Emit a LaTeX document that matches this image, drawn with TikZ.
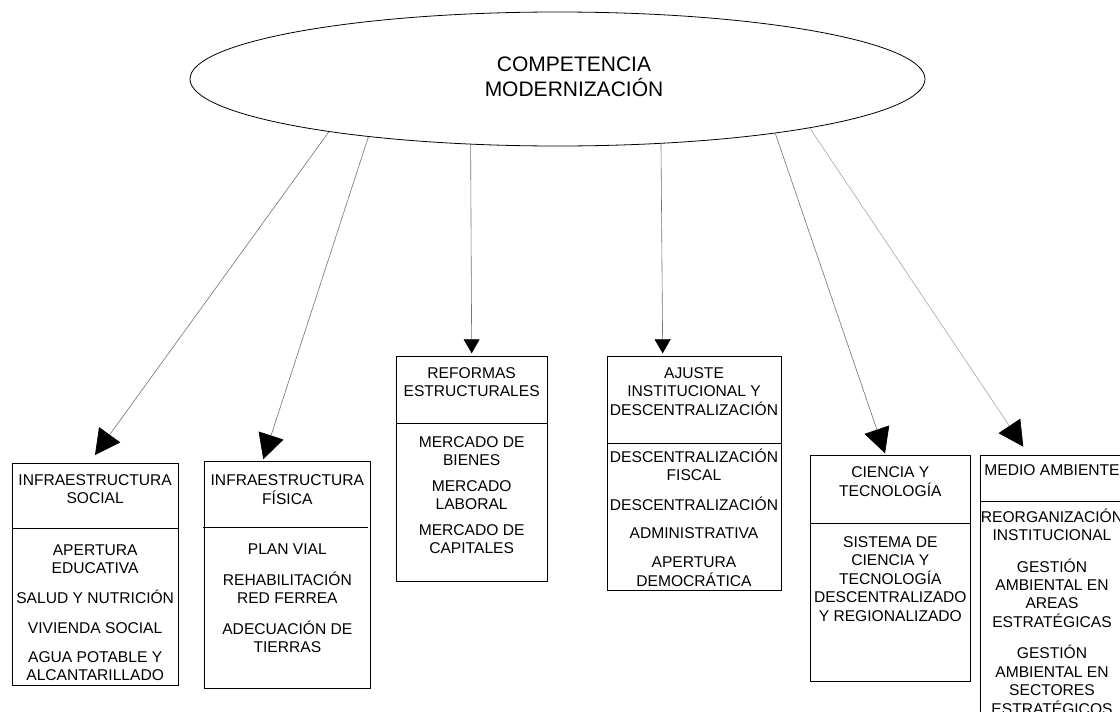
\documentclass[tikz,border=0pt]{standalone}
\usepackage{fontspec}
\setmainfont{Liberation Sans}
\usetikzlibrary{arrows.meta,shapes.geometric}
\newcommand{\boxlines}[1]{\begin{tabular}[t]{@{}c@{}}#1\end{tabular}}
\begin{document}
\begin{tikzpicture}[x=1pt,y=-1pt,
  box/.style={draw=black, line width=0.8pt, inner sep=0pt, outer sep=0pt},
  boxtxt/.style={font=\fontsize{15.6}{18.3}\selectfont, inner sep=0pt, anchor=base},
  divider/.style={draw=black, line width=0.8pt},
  conn/.style={draw=black!55, line width=0.6pt},
  bigtip/.style={-{Triangle[width=26pt,length=25pt,color=black]}},
  smalltip/.style={-{Triangle[width=16pt,length=14pt,color=black]}}]
\useasboundingbox (0,0) rectangle (1120,712);
\fill[white] (0,0) rectangle (1120,712);
\clip (0,0) rectangle (1120,712);

% central ellipse
\node[draw=black, line width=0.8pt, ellipse, minimum width=735pt, minimum height=134pt, inner sep=0pt] (ell) at (557.5,79) {};
\node[font=\fontsize{21}{24.6}\selectfont, inner sep=0pt, anchor=base] (title) at (574,71.2) {\boxlines{COMPETENCIA\\MODERNIZACIÓN}};

% boxes
\node[box, minimum width=166.3pt, minimum height=221.7pt] (b1) at (95.15,574.15) {};
\node[box, minimum width=166.7pt, minimum height=226.6pt] (b2) at (287.35,575) {};
\node[box, minimum width=151.3pt, minimum height=225pt] (b3) at (471.65,469.2) {};
\node[box, minimum width=174pt, minimum height=233.3pt] (b4) at (694,473.35) {};
\node[box, minimum width=159.3pt, minimum height=226pt] (b5) at (890.35,568) {};
\node[box, minimum width=144pt, minimum height=275pt] (b6) at (1052,592.5) {};

% dividers
\draw[divider] (b1.west |- 0,528.3) -- (b1.east |- 0,528.3);
\draw[divider] ([xshift=-1.5pt]b2.west |- 0,527.3) -- ([xshift=-3.2pt]b2.east |- 0,527.3);
\draw[divider] (b3.west |- 0,423.3) -- (b3.east |- 0,423.3);
\draw[divider] (b4.west |- 0,443.3) -- (b4.east |- 0,443.3);
\draw[divider] (b5.west |- 0,523.3) -- (b5.east |- 0,523.3);
\draw[divider] (b6.west |- 0,501.7) -- (b6.east |- 0,501.7);

% texts
\node[boxtxt] (h1) at (95.15,485.6) {\boxlines{INFRAESTRUCTURA\\SOCIAL}};
\node[boxtxt] (l1) at (95.15,555.6) {\boxlines{APERTURA\\EDUCATIVA\\[11pt]SALUD Y NUTRICIÓN\\[11pt]VIVIENDA SOCIAL\\[11pt]AGUA POTABLE Y\\ALCANTARILLADO}};

\node[boxtxt] (h2) at (287.35,485.6) {\boxlines{INFRAESTRUCTURA\\FÍSICA}};
\node[boxtxt] (l2) at (287.35,554) {\boxlines{PLAN VIAL\\[12pt]REHABILITACIÓN\\RED FERREA\\[12pt]ADECUACIÓN DE\\TIERRAS}};

\node[boxtxt] (h3) at (471.65,378) {\boxlines{REFORMAS\\ESTRUCTURALES}};
\node[boxtxt] (l3) at (471.65,447.3) {\boxlines{MERCADO DE\\BIENES\\[7.5pt]MERCADO\\LABORAL\\[7.5pt]MERCADO DE\\CAPITALES}};

\node[boxtxt] (h4) at (694,378) {\boxlines{AJUSTE\\INSTITUCIONAL Y\\DESCENTRALIZACIÓN}};
\node[boxtxt] (l4) at (694,462.3) {\boxlines{DESCENTRALIZACIÓN\\FISCAL\\[10.5pt]DESCENTRALIZACIÓN\\[10.5pt]ADMINISTRATIVA\\[10.5pt]APERTURA\\DEMOCRÁTICA}};

\node[boxtxt] (h5) at (890.35,477.3) {\boxlines{CIENCIA Y\\TECNOLOGÍA}};
\node[boxtxt] (l5) at (890.35,547.3) {\boxlines{SISTEMA DE\\CIENCIA Y\\TECNOLOGÍA\\DESCENTRALIZADO\\Y REGIONALIZADO}};

\node[boxtxt] (h6) at (1052,475.6) {\boxlines{MEDIO AMBIENTE}};
\node[boxtxt] (l6) at (1052,522.3) {\boxlines{REORGANIZACIÓN\\INSTITUCIONAL\\[12.5pt]GESTIÓN\\AMBIENTAL EN\\AREAS\\ESTRATÉGICAS\\[12pt]GESTIÓN\\AMBIENTAL EN\\SECTORES\\ESTRATÉGICOS}};

% arrow tips
\coordinate (t1) at (95,455);
\coordinate (t2) at (263.3,459.3);
\coordinate (t3) at (471.7,353.3);
\coordinate (t4) at (662.7,353.3);
\coordinate (t5) at (885,453.3);
\coordinate (t6) at (1023.3,446.7);

% connectors
\draw[conn, bigtip] (ell.193.4) -- (t1);
\draw[conn, bigtip] (ell.197.7) -- (t2);
\draw[conn, smalltip] (ell.217.2) -- (t3);
\draw[conn, smalltip] (ell.328.7) -- (t4);
\draw[conn, bigtip] (ell.346.2) -- (t5);
\draw[conn, bigtip, draw=black!35] (ell.349.9) -- (t6);
\end{tikzpicture}
\end{document}
